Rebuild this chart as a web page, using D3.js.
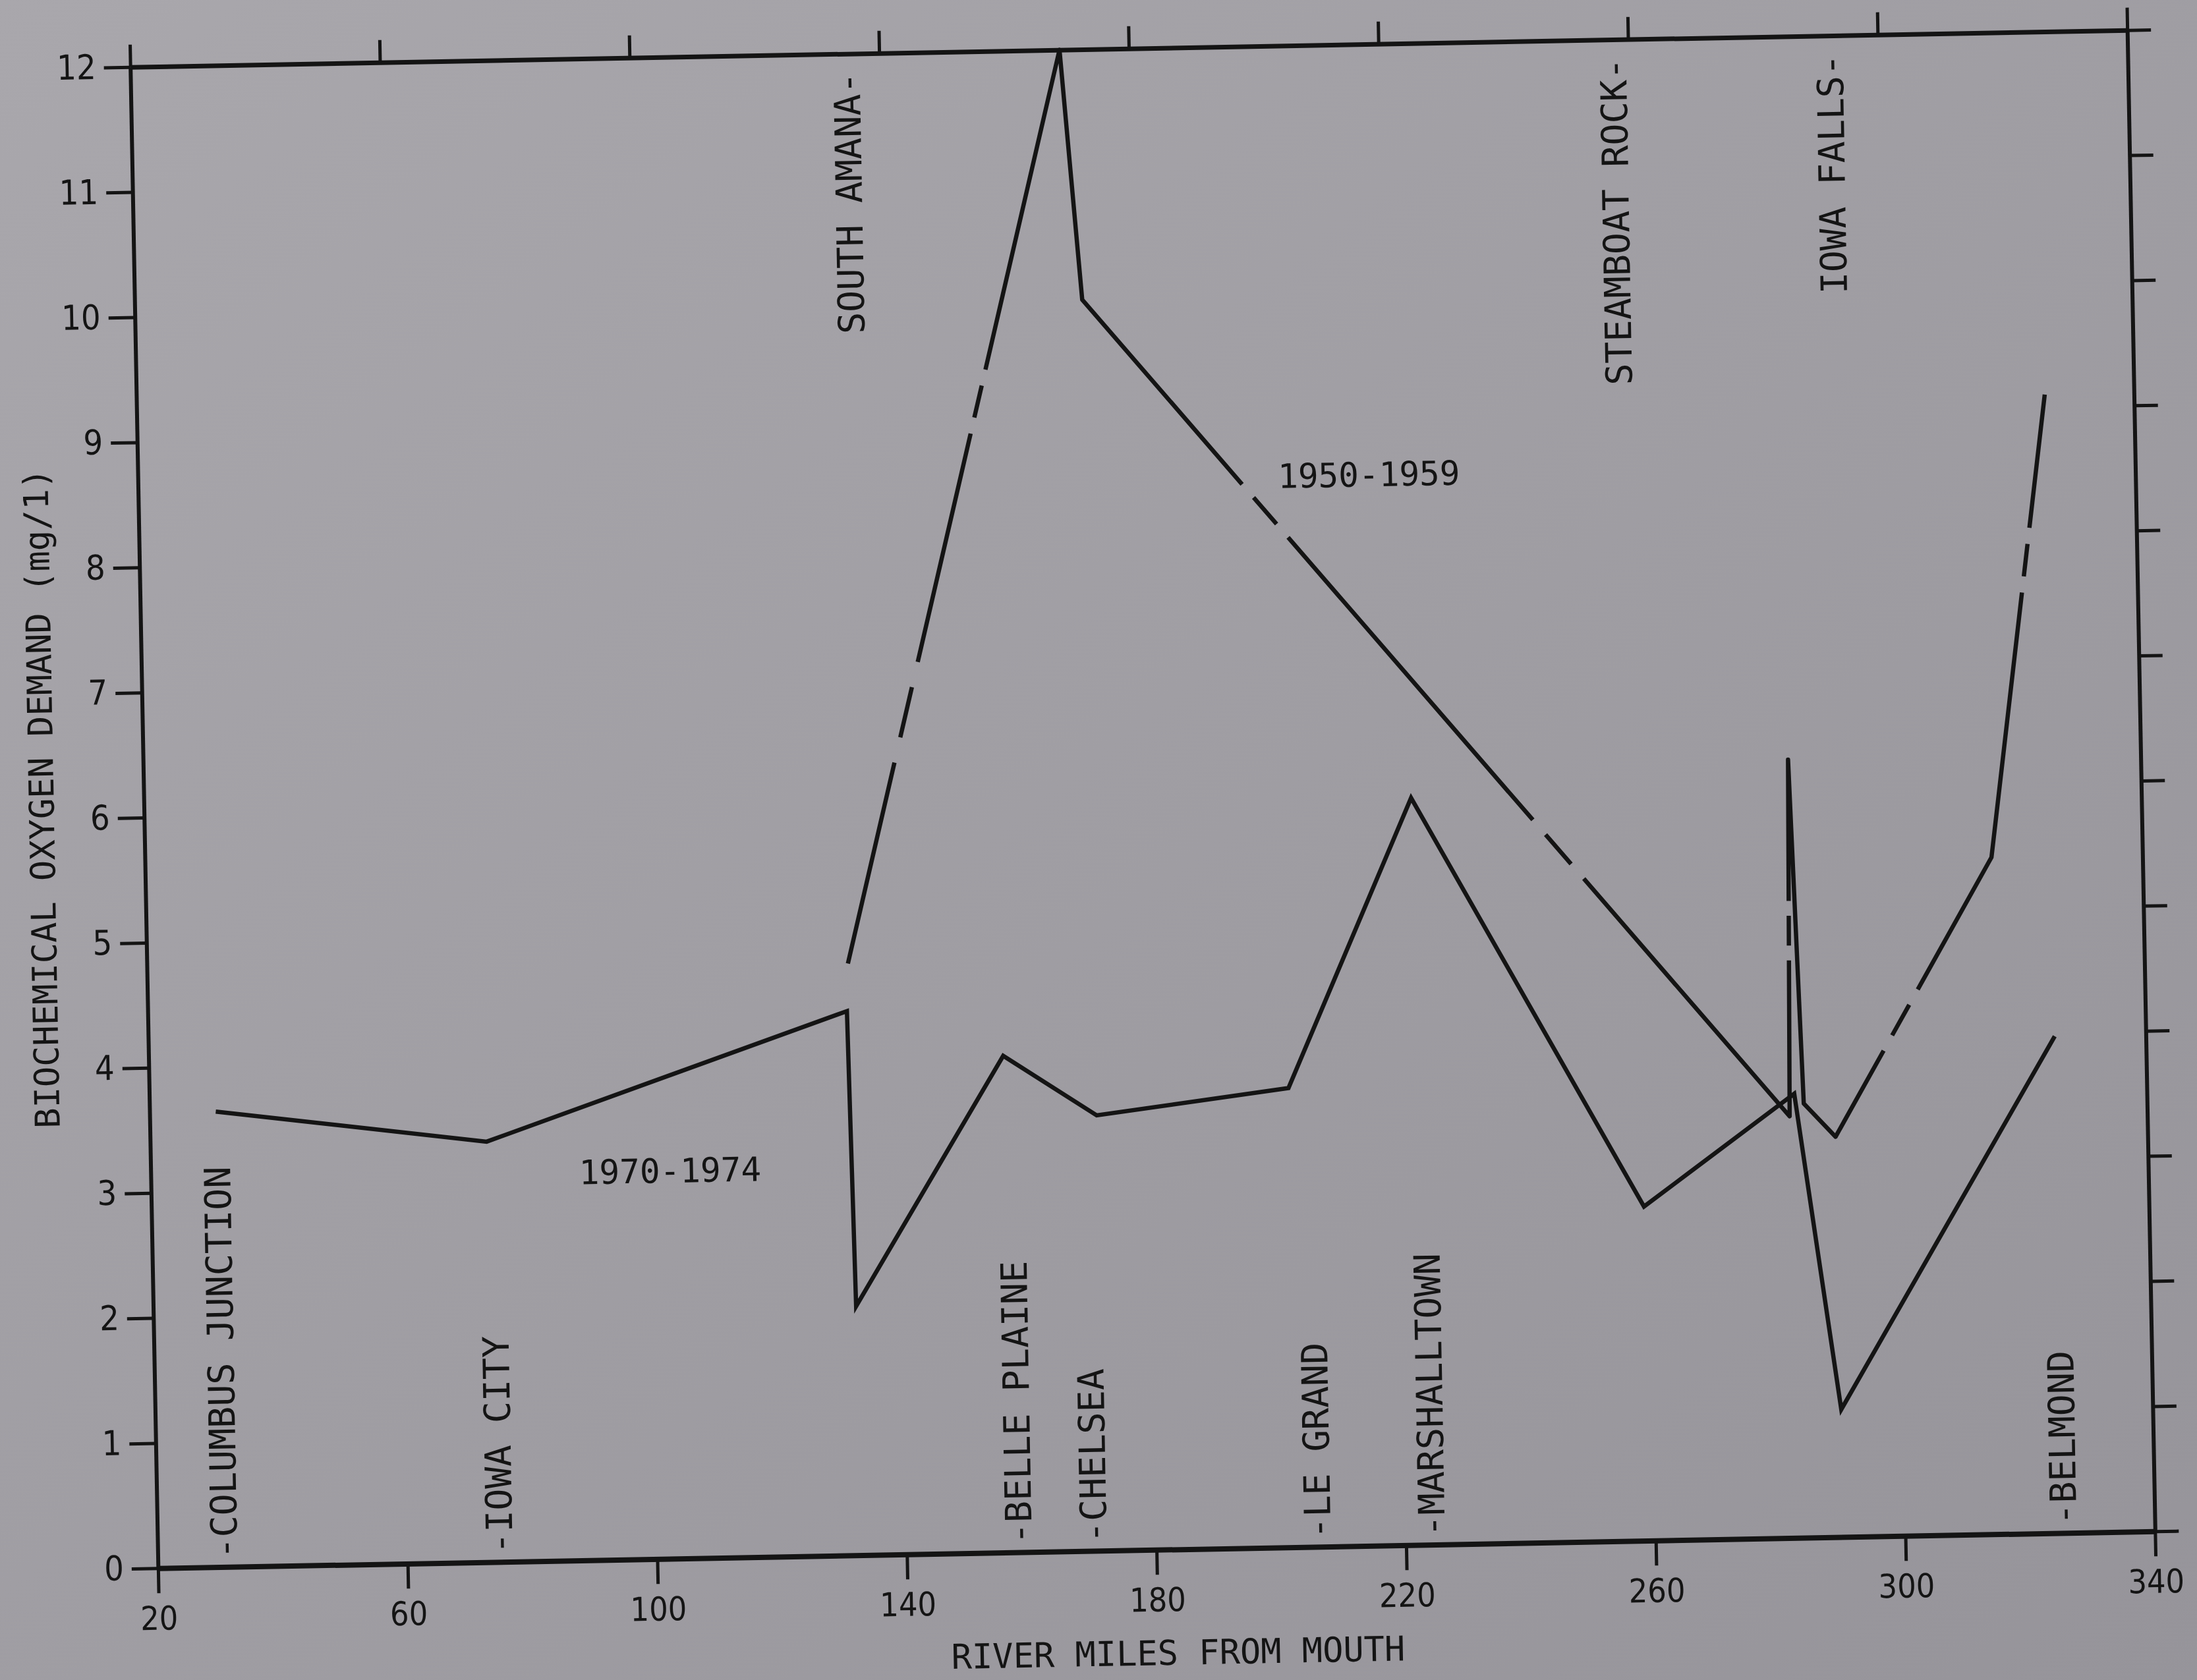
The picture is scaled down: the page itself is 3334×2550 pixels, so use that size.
<!DOCTYPE html>
<html><head><meta charset="utf-8">
<script src="https://cdn.jsdelivr.net/npm/d3@7"></script>
<style>html,body{margin:0;padding:0;background:#9f9da2;} svg{display:block}</style>
</head><body>
<svg id="chart" width="3334" height="2550"></svg>
<script>
// ---------------- data ----------------
const xTicks = [20, 60, 100, 140, 180, 220, 260, 300, 340];
const yTicks = [0, 1, 2, 3, 4, 5, 6, 7, 8, 9, 10, 11, 12];

// [river mile, BOD mg/l]
const series1970 = [
  [30.6, 3.64], [73.9, 3.36], [132.0, 4.35], [132.6, 1.99], [156.9, 3.97],
  [171.7, 3.48], [202.5, 3.67], [223.0, 5.97], [259.1, 2.67], [283.5, 3.55],
  [290.1, 1.02], [325.4, 3.97]
];
const series1950 = [
  [132.3, 4.73], [168.9, 12.0], [171.8, 10.0], [282.7, 3.37], [283.5, 6.22],
  [285.0, 3.47], [290.0, 3.20], [315.8, 5.41], [325.7, 9.10]
];
// broken (dashed) stretches of the 1950-1959 line: segment index, start/end fraction
const breaks1950 = [
  {seg: 0, t0: 0.22, t1: 0.33}, {seg: 0, t0: 0.58, t1: 0.65},
  {seg: 2, t0: 0.226, t1: 0.291}, {seg: 2, t0: 0.637, t1: 0.709},
  {seg: 3, t0: 0.437, t1: 0.604},
  {seg: 6, t0: 0.308, t1: 0.527},
  {seg: 7, t0: 0.572, t1: 0.712}
];
const stationsBottom = [
  {name: "-COLUMBUS JUNCTION", mile: 30.7},
  {name: "-IOWA CITY", mile: 74.8},
  {name: "-BELLE PLAINE", mile: 158.0},
  {name: "-CHELSEA", mile: 170.0},
  {name: "-LE GRAND", mile: 205.9},
  {name: "-MARSHALLTOWN", mile: 224.2},
  {name: "-BELMOND", mile: 325.4}
];
const stationsTop = [
  {name: "SOUTH AMANA-", mile: 134.8},
  {name: "STEAMBOAT ROCK-", mile: 257.6},
  {name: "IOWA FALLS-", mile: 292.3}
];
const seriesLabels = [
  {text: "1970-1974", mile: 103.2, value: 3.10},
  {text: "1950-1959", mile: 217.2, value: 8.56}
];
const xTitle = "RIVER MILES FROM MOUTH";
const yTitle = "BIOCHEMICAL OXYGEN DEMAND (mg/1)";

// ---------------- layout ----------------
const W = 3334, H = 2550;
const frame = {left: 218.5, right: 3249.5, top: 73.5, bottom: 2352.5};
const cx = 1734, cy = 1213, tilt = -1.06;
const ink = "#141414";
const monoFont = "'DejaVu Sans Mono', 'Liberation Mono', monospace";

const svg = d3.select("#chart");
const defs = svg.append("defs");
const grad = defs.append("linearGradient").attr("id", "paper")
  .attr("x1", "0").attr("y1", "0").attr("x2", "1").attr("y2", "1");
grad.append("stop").attr("offset", "0").attr("stop-color", "#a9a7ac");
grad.append("stop").attr("offset", "1").attr("stop-color", "#96949a");
svg.append("rect").attr("width", W).attr("height", H).attr("fill", "url(#paper)");

const g = svg.append("g").attr("transform", `rotate(${tilt},${cx},${cy})`);

const x = d3.scaleLinear().domain([20, 340]).range([frame.left, frame.right]);
const y = d3.scaleLinear().domain([0, 12]).range([frame.bottom, frame.top]);

function styleAxis(sel, domainW, tickW, font, size) {
  sel.attr("font-family", font).attr("font-size", size);
  sel.select(".domain").attr("stroke", ink).attr("stroke-width", domainW);
  sel.selectAll(".tick line").attr("stroke", ink).attr("stroke-width", tickW);
  sel.selectAll(".tick text").attr("fill", ink);
}

// axes (frame with outward ticks on all four sides)
const axB = g.append("g").attr("transform", `translate(0,${frame.bottom})`)
  .call(d3.axisBottom(x).tickValues(xTicks).tickSize(38).tickSizeOuter(0).tickPadding(20));
styleAxis(axB, 8, 5, "'DejaVu Sans Condensed','DejaVu Sans',sans-serif", 50);

const axT = g.append("g").attr("transform", `translate(0,${frame.top})`)
  .call(d3.axisTop(x).tickValues(xTicks).tickSize(34).tickSizeOuter(0).tickFormat(""));
styleAxis(axT, 7, 5, "sans-serif", 10);

const axL = g.append("g").attr("transform", `translate(${frame.left},0)`)
  .call(d3.axisLeft(y).tickValues(yTicks).tickSize(40).tickSizeOuter(0).tickPadding(12));
styleAxis(axL, 6, 5, "'Liberation Sans Narrow','DejaVu Sans Condensed',sans-serif", 52);

const axR = g.append("g").attr("transform", `translate(${frame.right},0)`)
  .call(d3.axisRight(y).tickValues(yTicks).tickSize(36).tickSizeOuter(0).tickFormat(""));
styleAxis(axR, 6, 5, "sans-serif", 10);

// ---------------- lines ----------------
const line = d3.line().x(d => x(d[0])).y(d => y(d[1]));

g.append("path").datum(series1970)
  .attr("d", line).attr("fill", "none").attr("stroke", ink)
  .attr("stroke-width", 6.5).attr("stroke-linejoin", "miter");

const pts = series1950.map(d => [x(d[0]), y(d[1])]);
const segLen = d3.pairs(pts).map(([a, b]) => Math.hypot(b[0] - a[0], b[1] - a[1]));
const cum = [0];
segLen.forEach((l, i) => cum.push(cum[i] + l));
const total = cum[cum.length - 1];
const dash = [];
let pos = 0;
breaks1950.forEach(b => {
  const s = cum[b.seg] + b.t0 * segLen[b.seg];
  const e = cum[b.seg] + b.t1 * segLen[b.seg];
  const span = e - s;
  dash.push(s - pos, span * 0.25, span * 0.5, span * 0.25);
  pos = e;
});
dash.push(total - pos + 10, total);

g.append("path").datum(series1950)
  .attr("d", line).attr("fill", "none").attr("stroke", ink)
  .attr("stroke-width", 6.5).attr("stroke-linejoin", "round")
  .attr("stroke-dasharray", dash.join(","));

// ---------------- station labels ----------------
g.selectAll("text.stb").data(stationsBottom).join("text")
  .attr("class", "stb")
  .attr("transform", d => `translate(${x(d.mile)},${y(0) - 12}) rotate(-90)`)
  .attr("dy", "0.35em").attr("text-anchor", "start")
  .attr("font-family", monoFont).attr("font-size", 55).attr("fill", ink)
  .text(d => d.name);

g.selectAll("text.stt").data(stationsTop).join("text")
  .attr("class", "stt")
  .attr("transform", d => `translate(${x(d.mile)},${y(12) + 28}) rotate(-90)`)
  .attr("dy", "0.35em").attr("text-anchor", "end")
  .attr("font-family", monoFont).attr("font-size", 55).attr("fill", ink)
  .text(d => d.name);

g.selectAll("text.ser").data(seriesLabels).join("text")
  .attr("class", "ser")
  .attr("x", d => x(d.mile)).attr("y", d => y(d.value))
  .attr("dy", "0.35em").attr("text-anchor", "middle")
  .attr("font-family", monoFont).attr("font-size", 51).attr("fill", ink)
  .text(d => d.text);

// ---------------- axis titles ----------------
g.append("text")
  .attr("x", (frame.left + frame.right) / 2 + 30).attr("y", frame.bottom + 175)
  .attr("text-anchor", "middle")
  .attr("font-family", monoFont).attr("font-size", 52).attr("fill", ink)
  .text(xTitle);

g.append("text")
  .attr("transform", `translate(${frame.left - 155},${(frame.top + frame.bottom) / 2 - 32}) rotate(-90)`)
  .attr("dy", "0.35em").attr("text-anchor", "middle")
  .attr("font-family", monoFont).attr("font-size", 52).attr("fill", ink)
  .text(yTitle);
</script>
</body></html>
